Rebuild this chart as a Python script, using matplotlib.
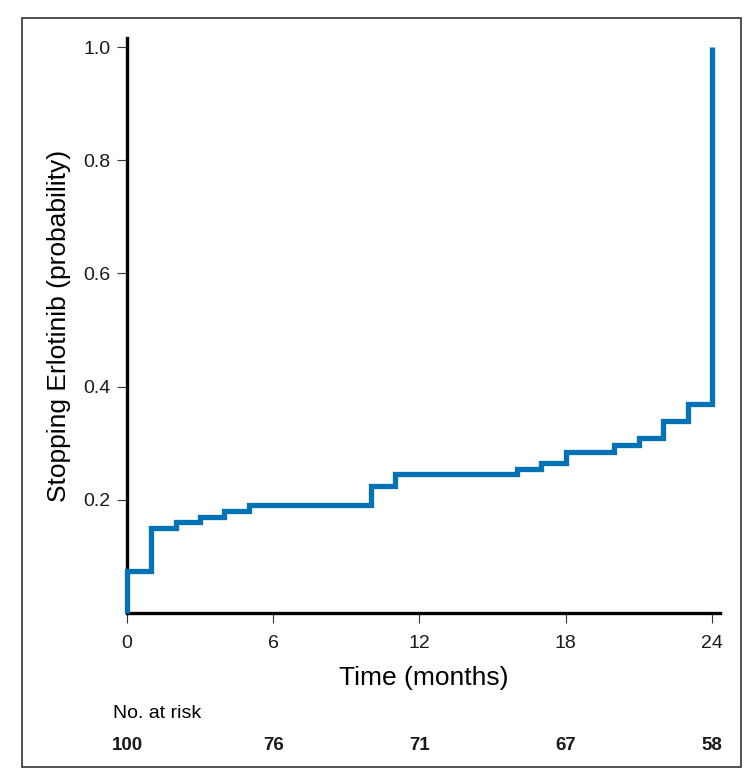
import matplotlib
matplotlib.use("Agg")
import matplotlib.pyplot as plt
from matplotlib.patches import Rectangle
from matplotlib.transforms import blended_transform_factory

# Data
step_times = [0, 1, 2, 3, 4, 5, 10, 11, 16, 17, 18, 20, 21, 22, 23, 24]
step_probs = [0.075, 0.15, 0.16, 0.17, 0.18, 0.19, 0.225, 0.245, 0.255, 0.265,
              0.285, 0.297, 0.31, 0.34, 0.37, 1.0]
x_ticks = [0, 6, 12, 18, 24]
y_ticks = [0.2, 0.4, 0.6, 0.8, 1.0]
risk_times = [0, 6, 12, 18, 24]
risk_counts = [100, 76, 71, 67, 58]

plt.rcParams['font.family'] = ['Liberation Sans', 'DejaVu Sans']

fig = plt.figure(figsize=(7.5, 7.75), dpi=100)
ax = fig.add_axes([127/750, 1-613/775, (720-127)/750, (613-38)/775])

xs = [0] + step_times
ys = [0] + step_probs
ax.step(xs, ys, where='post', color='#0572b8', lw=3.8, solid_joinstyle='miter',
        solid_capstyle='butt', zorder=3, clip_on=False)

ax.set_xlim(0, 24.33)
ax.set_ylim(0, 1.016)
ax.set_xticks(x_ticks)
ax.set_yticks(y_ticks)
ax.set_xticklabels([str(t) for t in x_ticks])
ax.set_yticklabels([f"{v:.1f}" for v in y_ticks])
ax.tick_params(axis='both', labelsize=14, length=7, width=0.8, color='#333333',
               labelcolor='#1a1a1a', pad=5)
ax.tick_params(axis='x', pad=9)

for s in ['top', 'right']:
    ax.spines[s].set_visible(False)
for s in ['left', 'bottom']:
    ax.spines[s].set_linewidth(2.4)
    ax.spines[s].set_color('black')

ax.set_ylabel('Stopping Erlotinib (probability)', fontsize=19, labelpad=9)
fig.text(424/750, 1-678/775, 'Time (months)', fontsize=19, ha='center', va='center')

fig.text(113/750, 1-714/775, 'No. at risk', fontsize=14, ha='left', va='center')
trans = blended_transform_factory(ax.transData, fig.transFigure)
for t, n in zip(risk_times, risk_counts):
    ax.text(t, 1-745/775, str(n), transform=trans, fontsize=13.5, fontweight='bold',
            ha='center', va='center', clip_on=False, color='#1a1a1a')

fig.patches.append(Rectangle((22/750, 1-767/775), (741-22)/750, (767-18)/775,
                             transform=fig.transFigure, fill=False,
                             edgecolor='#333333', lw=1.2))

fig.savefig('out.png', dpi=100)
